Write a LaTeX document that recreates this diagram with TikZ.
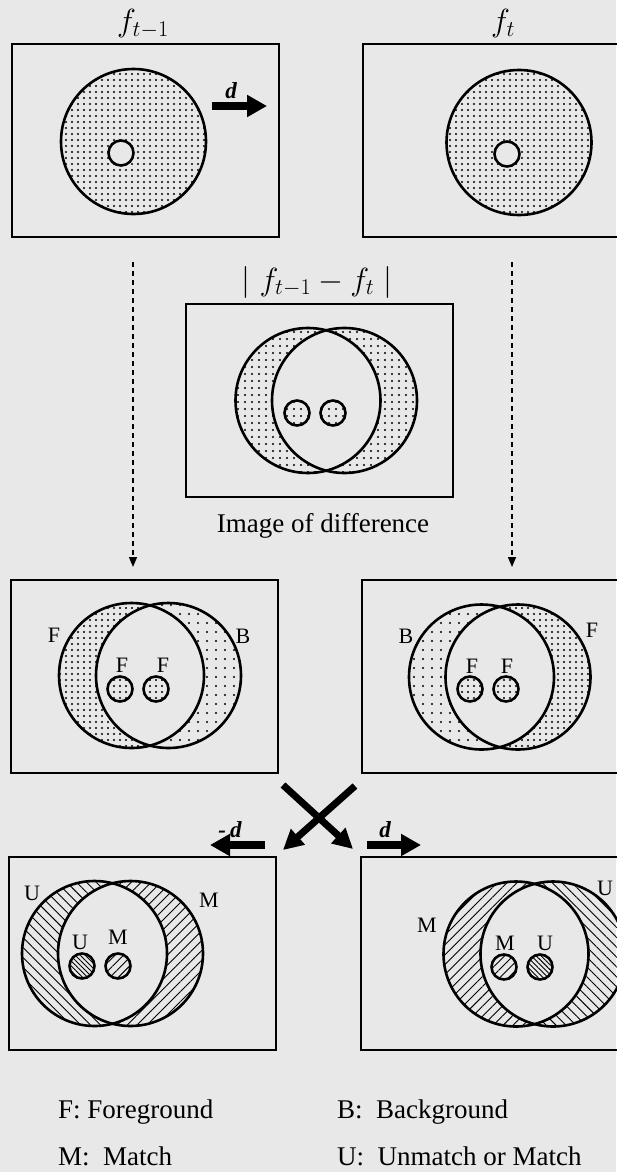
\RequirePackage{fix-cm}
\documentclass[tikz,border=0pt]{standalone}
\usepackage{fontspec}
\setmainfont{Liberation Serif}
\usetikzlibrary{patterns.meta,arrows.meta}
\definecolor{paper}{RGB}{232,232,232}
% two overlapping rings: left x, right x, y, left fill style, right fill style
\newcommand\twinrings[5]{%
  \fill[#4] (#1,#3) circle[radius=72.5pt];
  \fill[#5] (#2,#3) circle[radius=72.5pt];
  \begin{scope}
    \clip (#1,#3) circle[radius=72.5pt];
    \fill[paper] (#2,#3) circle[radius=72.5pt];
  \end{scope}
  \draw[ring] (#1,#3) circle[radius=72.5pt];
  \draw[ring] (#2,#3) circle[radius=72.5pt];
}
% small disc: x, y, fill style
\newcommand\minidisc[3]{%
  \fill[paper] (#1,#2) circle[radius=12.5pt];
  \fill[#3] (#1,#2) circle[radius=12.5pt];
  \draw[ring] (#1,#2) circle[radius=12.5pt];
}
\begin{document}
\begin{tikzpicture}[x=1pt,y=-1pt,
  frame/.style={draw, line width=2pt, inner sep=0pt, outer sep=0pt,
    minimum width=267pt, minimum height=193pt},
  ring/.style={draw, line width=2.6pt},
  lbl/.style={font=\fontsize{22}{24}\selectfont, inner sep=0pt},
  legend/.style={font=\fontsize{27}{30}\selectfont, inner sep=0pt, anchor=base west},
  mathlbl/.style={font=\fontsize{32}{36}\selectfont, inner sep=0pt, anchor=base},
  dlbl/.style={font=\fontsize{23}{25}\selectfont\bfseries\itshape, inner sep=0pt},
  fatarrow/.style={line width=7.5pt, -{Triangle[length=20pt,width=21pt]}},
  crossarrow/.style={line width=7pt, -{Triangle[length=20pt,width=20pt]}},
  dasharrow/.style={line width=1.4pt, dash pattern=on 5pt off 4pt,
    -{Triangle[length=10pt,width=8pt]}},
  densedots/.style={pattern={Dots[distance=6pt,radius=1.05pt]}},
  middots/.style={pattern={Dots[distance=7pt,radius=1.05pt]}},
  sparsedots/.style={pattern={Dots[distance=9pt,radius=1.05pt]}},
  hatchU/.style={pattern={Lines[angle=-45,distance=7pt,line width=0.9pt]}},
  hatchM/.style={pattern={Lines[angle=45,distance=7pt,line width=0.9pt]}},
  hatchUdense/.style={pattern={Lines[angle=-45,distance=3.5pt,line width=0.9pt]}},
  hatchMsmall/.style={pattern={Lines[angle=45,distance=6pt,line width=0.9pt]}},
  blank/.style={fill=paper}
]
\fill[paper] (0,0) rectangle (616,1172);
\useasboundingbox (0,0) rectangle (616,1172);

% ---------- row 1 ----------
\node[frame] (b1) at (145.5,140.5) {};
\node[frame] (b2) at (496.5,140.5) {};
\node[mathlbl] (l1) at (143,32) {$f_{t-1}$};
\node[mathlbl] (l2) at (503,32) {$f_t$};
\fill[densedots] (133.5,141.5) circle[radius=72.5pt];
\draw[ring] (133.5,141.5) circle[radius=72.5pt];
\minidisc{121}{153}{blank}
\fill[densedots] (519,142.5) circle[radius=72.5pt];
\draw[ring] (519,142.5) circle[radius=72.5pt];
\minidisc{507}{154}{blank}
\coordinate (d1s) at (212,106);
\coordinate (d1e) at (267,106);
\draw[fatarrow] (d1s) -- (d1e);
\node[dlbl] (d1) at (231,91) {d};

% ---------- difference ----------
\node[mathlbl] (l3) at (317,290) {$|\;f_{t-1} - f_t\;|$};
\node[frame] (b3) at (319.5,400.5) {};
\twinrings{308}{344.5}{400.5}{middots}{middots}
\minidisc{297}{413}{middots}
\minidisc{333}{413}{middots}
\node[font=\fontsize{27}{30}\selectfont, inner sep=0pt, anchor=base] (l4) at (323,532) {Image of difference};

% ---------- row 2 ----------
\node[frame] (b4) at (144.5,676.5) {};
\node[frame] (b5) at (495.5,676.5) {};
\twinrings{131.5}{168.5}{675.5}{densedots}{sparsedots}
\minidisc{120}{689}{densedots}
\minidisc{156}{689}{densedots}
\node[lbl] at (54,635) {F};
\node[lbl] at (243,636) {B};
\node[lbl] at (122,665) {F};
\node[lbl] at (163,665) {F};
\twinrings{481.5}{518}{677}{sparsedots}{densedots}
\minidisc{470}{689}{densedots}
\minidisc{506}{689}{densedots}
\node[lbl] at (406,636) {B};
\node[lbl] at (592,630) {F};
\node[lbl] at (472,666) {F};
\node[lbl] at (507,666) {F};

% dashed connectors
\coordinate (dA) at (133,262);
\coordinate (dB) at (512,262);
\draw[dasharrow, shorten >=13pt] (dA) -- (dA |- b4.north);
\draw[dasharrow, shorten >=13pt] (dB) -- (dB |- b5.north);

% ---------- cross and shift arrows ----------
\coordinate (xa1) at (283,785);
\coordinate (xa2) at (353,849);
\coordinate (xb1) at (355,786);
\coordinate (xb2) at (283,850);
\draw[crossarrow] (xa1) -- (xa2);
\draw[crossarrow] (xb1) -- (xb2);
\coordinate (d2s) at (265,845);
\coordinate (d2e) at (210,845);
\draw[fatarrow] (d2s) -- (d2e);
\node[dlbl] (d2) at (230,830) {-\hspace{4pt}d};
\coordinate (d3s) at (367,845);
\coordinate (d3e) at (421,845);
\draw[fatarrow] (d3s) -- (d3e);
\node[dlbl] (d3) at (385,830) {d};

% ---------- row 3 ----------
\node[frame] (b6) at (142.5,953.5) {};
\node[frame] (b7) at (494.5,953.5) {};
\twinrings{94.5}{130.5}{953.5}{hatchU}{hatchM}
\minidisc{82}{966}{hatchUdense}
\minidisc{118}{966}{hatchMsmall}
\node[lbl] at (32,893) {U};
\node[lbl] at (209,900) {M};
\node[lbl] at (80,942) {U};
\node[lbl] at (118,937) {M};
\twinrings{516}{553}{954}{hatchM}{hatchU}
\minidisc{504}{967}{hatchMsmall}
\minidisc{540}{967}{hatchUdense}
\node[lbl] at (427,925) {M};
\node[lbl] at (605,888) {U};
\node[lbl] at (505,943) {M};
\node[lbl] at (545,943) {U};

% ---------- legend ----------
\node[legend] (g1) at (58,1118) {F: Foreground};
\node[legend] (g2) at (58,1165) {M:\ \ Match};
\node[legend] (g3) at (337,1118) {B:\ \ Background};
\node[legend] (g4) at (337,1165) {U:\ \ Unmatch or Match};
\end{tikzpicture}
\end{document}
